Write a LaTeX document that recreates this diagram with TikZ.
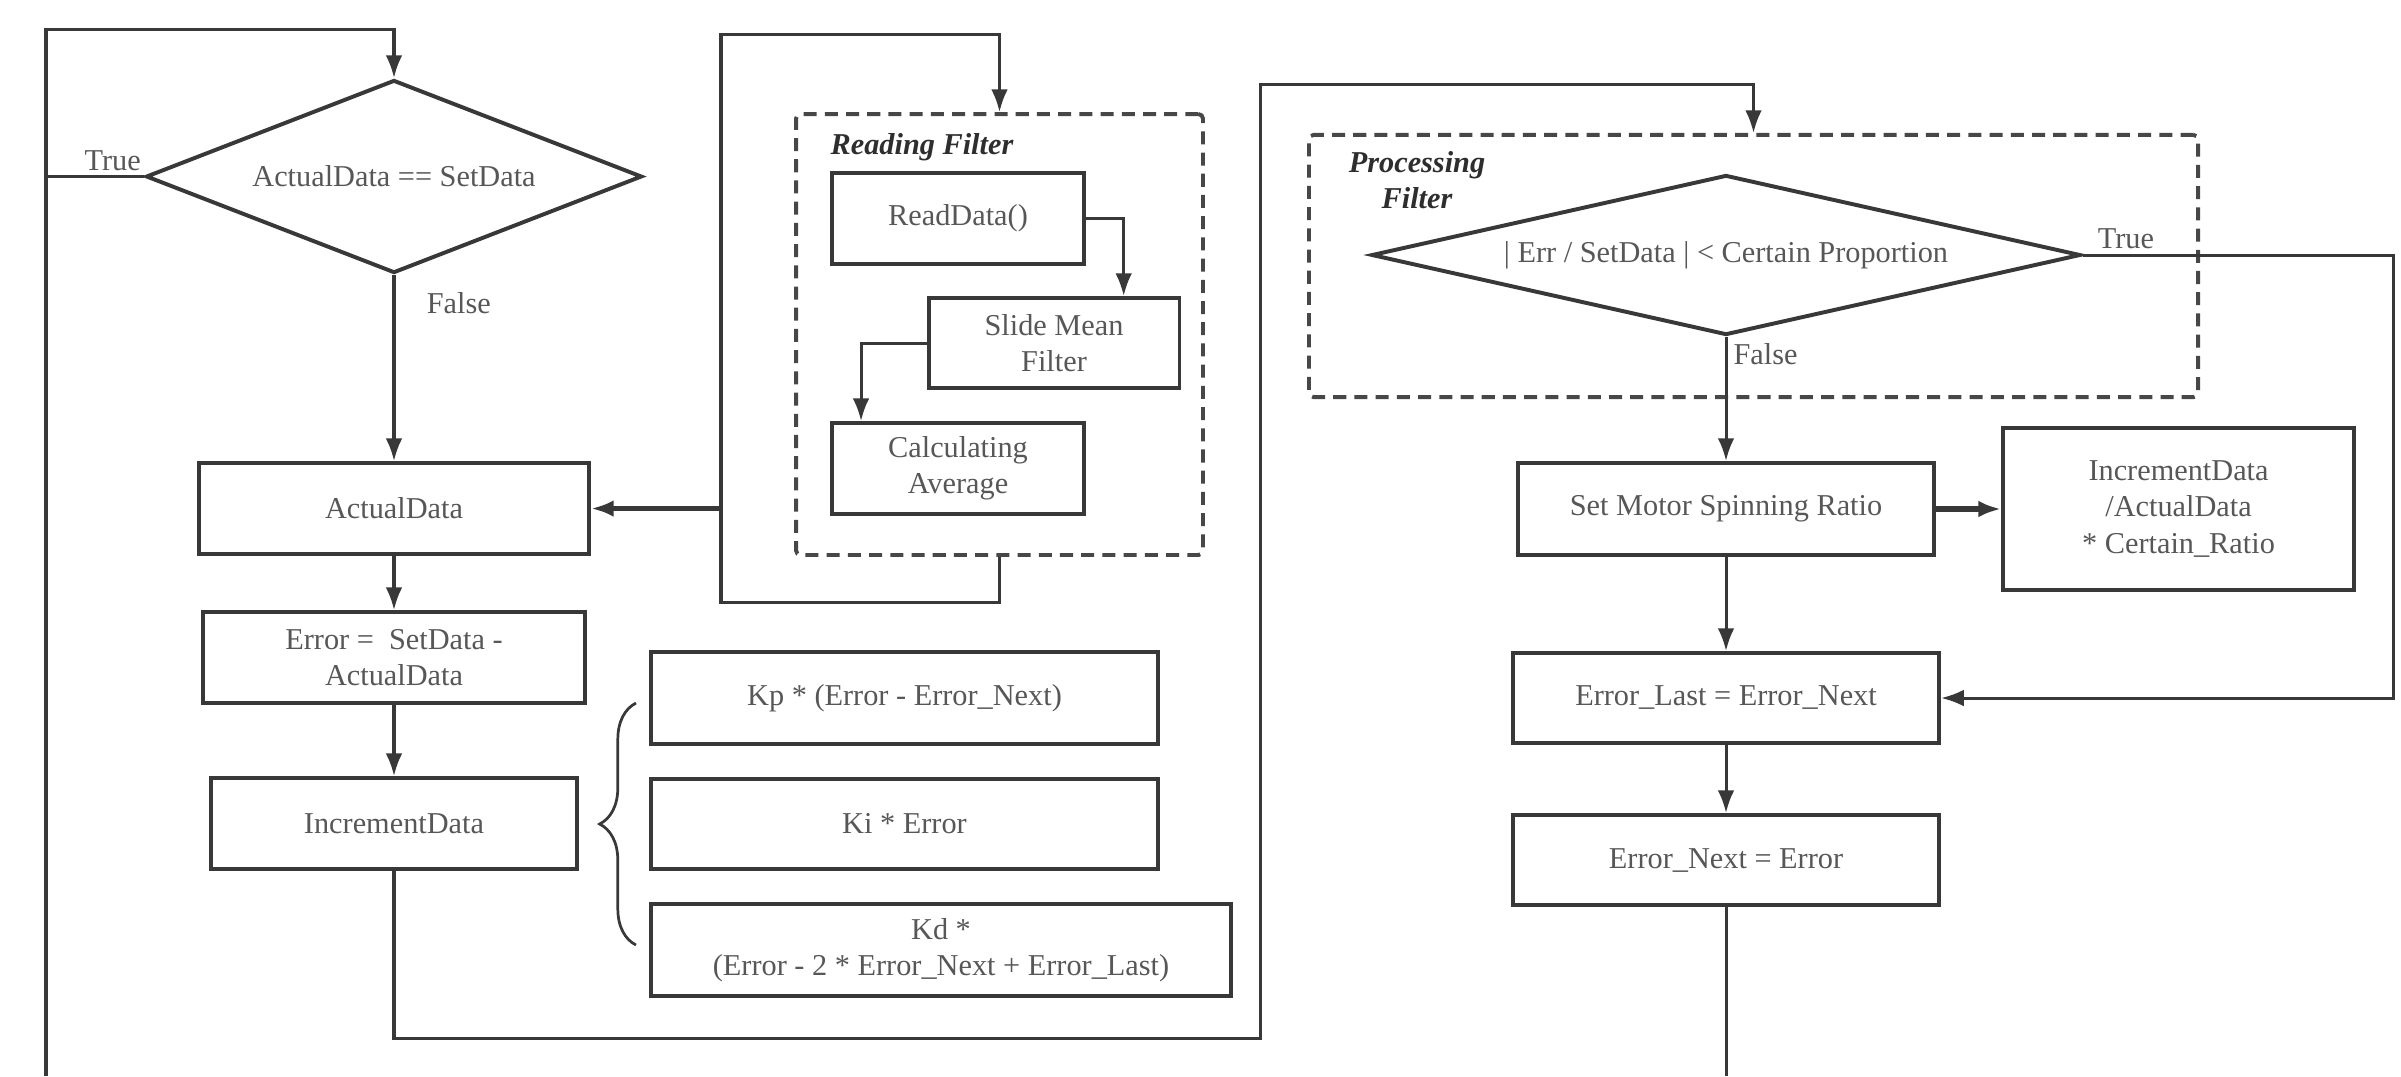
\documentclass[tikz,border=0pt]{standalone}
\usepackage{fontspec}
\setmainfont{Liberation Serif}
\usepackage{tikz}
\usetikzlibrary{shapes.geometric}
\usetikzlibrary{arrows.meta,positioning}
\usetikzlibrary{decorations.pathreplacing}

\begin{document}
\begin{tikzpicture}[x=0.33pt, y=-0.33pt,
  font=\fontsize{10}{12}\selectfont,
  box/.style={draw=black!78, line width=1.3pt, rectangle, align=center, inner sep=2pt, text=black!66},
  decide/.style={draw=black!78, line width=1.3pt, diamond, align=center, inner sep=0pt, text=black!66},
  filterbox/.style={draw=black!72, line width=1.3pt, dash pattern=on 4.3pt off 2.7pt, rounded corners=1.5pt},
  flow/.style={draw=black!78, line width=1pt, -{Latex[length=7.5pt,width=5.5pt]}},
  link/.style={draw=black!78, line width=1pt},
  heavyflow/.style={flow, line width=1.7pt},
  lbl/.style={text=black!66},
  tag/.style={font=\bfseries\itshape\fontsize{10}{12}\selectfont, align=center, text=black!82}]
\useasboundingbox (0,0) rectangle (2401,1076);
%\draw[step=100,gray,very thin] (0,0) grid (2401,1076);
%% turning points of the loops
\coordinate (lbot) at (46,1076);%%
\coordinate (ltop) at (46,29);%%
\coordinate (rloopb) at (721,602);%%
\coordinate (rloopt) at (721,34);%%
\coordinate (botturn) at (1260,1038);%%
\coordinate (toprow) at (0,84);%%
\coordinate (rightx) at (2393,0);%%
\coordinate (rbot) at (1726,1076);%%
%% left column
\node[decide, aspect=2.57, minimum width=163.7pt, minimum height=63.7pt] (cmpset) at (394,176.5) {ActualData == SetData};%%
\node[box, minimum width=128.7pt, minimum height=30pt] (actual) at (394,508.5) {ActualData};%%
\node[box, minimum width=126.1pt, minimum height=30pt] (err) at (394,657.5) {Error =\ \ SetData -\\ActualData};%%
\node[box, minimum width=120.5pt, minimum height=30pt] (incr) at (394,823.5) {IncrementData};%%
%% reading filter
\node[filterbox, minimum width=134.3pt, minimum height=145.5pt] (readfilter) at (999.5,334.5) {};%%
\node[tag, anchor=west, inner sep=0pt] (readtag) at (830,147) {Reading Filter};%%
\node[box, minimum width=83.2pt, minimum height=30pt] (readdata) at (958,218.5) {ReadData()};%%
\node[box, minimum width=82.8pt, minimum height=29.7pt] (slide) at (1054,343) {Slide Mean\\Filter};%%
\node[box, minimum width=83.2pt, minimum height=30pt] (calc) at (958,468.5) {Calculating\\Average};%%
%% pid terms
\node[box, minimum width=167.3pt, minimum height=30.4pt] (kpterm) at (904.5,698) {Kp * (Error - Error\_Next)};%%
\node[box, minimum width=167.3pt, minimum height=29.7pt] (kiterm) at (904.5,824) {Ki * Error};%%
\node[box, minimum width=191.4pt, minimum height=30.4pt] (kdterm) at (941,950) {Kd *\\(Error - 2 * Error\_Next + Error\_Last)};%%
\draw[link, line width=0.9pt, decorate, decoration={brace, amplitude=12pt}] (636,945) -- (636,703);%%
%% processing filter
\node[filterbox, minimum width=293.4pt, minimum height=86.5pt] (procfilter) at (1753.5,266) {};%%
\node[tag, inner sep=0pt] (proctag) at (1417,180) {Processing\\Filter};%%
\node[decide, aspect=4.43, minimum width=234pt, minimum height=52.8pt] (ratiochk) at (1726,255) {| Err / SetData | < Certain Proportion};%%
\node[box, minimum width=137pt, minimum height=30.4pt] (setmotor) at (1726,509) {Set Motor Spinning Ratio};%%
\node[box, minimum width=115.8pt, minimum height=53.5pt] (ratio) at (2178.5,509) {IncrementData\\/ActualData\\* Certain\_Ratio};%%
\node[box, minimum width=140.6pt, minimum height=29.7pt] (errlast) at (1726,698) {Error\_Last = Error\_Next};%%
\node[box, minimum width=140.6pt, minimum height=29.7pt] (errnext) at (1726,860) {Error\_Next = Error};%%
%% connectors
\draw[flow] (lbot) -- (ltop) -| (cmpset.north);%%
\draw[link] (cmpset.west) -- (cmpset.west -| lbot) node[lbl, pos=0.32, above, inner sep=1.5pt] (truea) {True};%%
\draw[flow] (cmpset.south) -- (actual.north) node[lbl, pos=0.15, right, xshift=7pt] (falsea) {False};%%
\draw[flow] (actual) -- (err);%%
\draw[flow] (err) -- (incr);%%
\draw[flow] (readfilter.south) |- (rloopb) -- (rloopt) -| (readfilter.north);%%
\draw[heavyflow] (actual.east -| rloopb) -- (actual.east);%%
\draw[flow] (readdata.east) -| ([xshift=23pt]slide.north);%%
\draw[flow] (slide.west) -| ([xshift=-32pt]calc.north);%%
\draw[flow] (incr.south) |- (botturn) -- (botturn |- toprow) -| (procfilter.north);%%
\draw[flow] (ratiochk.south) -- (setmotor.north) node[lbl, pos=0.14, right, inner sep=2pt] (falseb) {False};%%
\draw[flow] (ratiochk.east) -- (ratiochk.east -| rightx) node[lbl, pos=0.14, above, inner sep=1.5pt] (trueb) {True} |- (errlast.east);%%
\draw[heavyflow] (setmotor) -- (ratio);%%
\draw[flow] (setmotor) -- (errlast);%%
\draw[flow] (errlast) -- (errnext);%%
\draw[link] (errnext) -- (rbot);%%
\end{tikzpicture}
\end{document}
